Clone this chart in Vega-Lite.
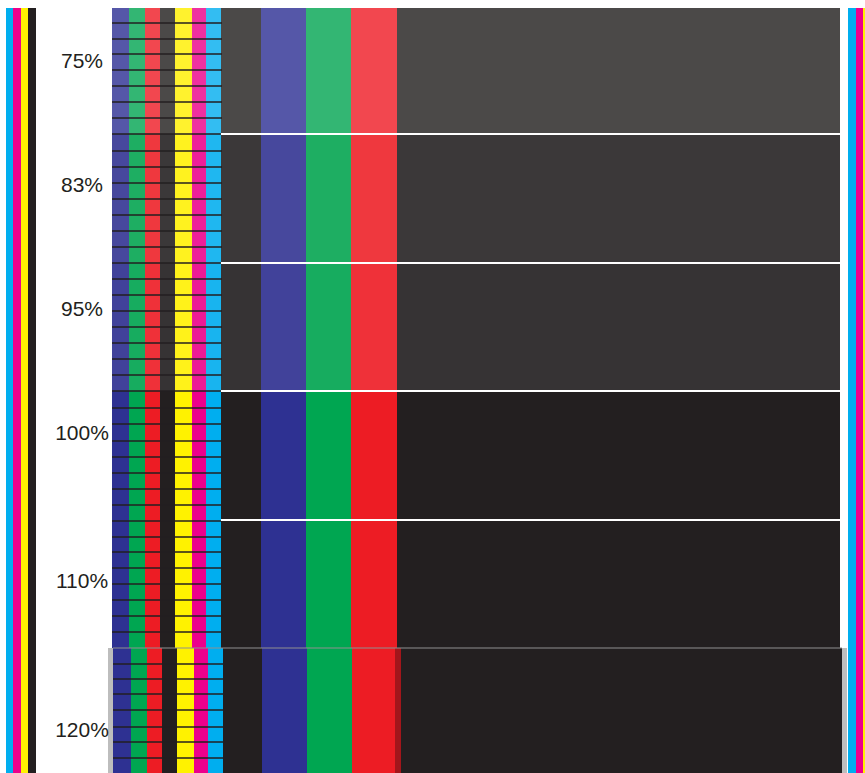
{
  "$schema": "https://vega.github.io/schema/vega-lite/v6.json",
  "width": 865,
  "height": 773,
  "padding": 0,
  "autosize": {"type": "none"},
  "background": "white",
  "config": {"view": {"stroke": null}},
  "datasets": {
    "patches": [
      {"ink": "SH", "x0": 108, "x1": 847, "y0": 648, "y1": 773},
      {"ink": "C100", "x0": 6, "x1": 13, "y0": 8, "y1": 773},
      {"ink": "M100", "x0": 13, "x1": 21, "y0": 8, "y1": 773},
      {"ink": "Y100", "x0": 21, "x1": 28, "y0": 8, "y1": 773},
      {"ink": "K100", "x0": 28, "x1": 36, "y0": 8, "y1": 773},
      {"ink": "C100", "x0": 848, "x1": 856, "y0": 8, "y1": 773},
      {"ink": "M100", "x0": 856, "x1": 863, "y0": 8, "y1": 773},
      {"ink": "Y100", "x0": 863, "x1": 866, "y0": 8, "y1": 773},

      {"ink": "B75", "x0": 112, "x1": 129, "y0": 8, "y1": 134},
      {"ink": "G75", "x0": 129, "x1": 145, "y0": 8, "y1": 134},
      {"ink": "R75", "x0": 145, "x1": 160, "y0": 8, "y1": 134},
      {"ink": "K75", "x0": 160, "x1": 175, "y0": 8, "y1": 134},
      {"ink": "Y75", "x0": 175, "x1": 192, "y0": 8, "y1": 134},
      {"ink": "M75", "x0": 192, "x1": 206, "y0": 8, "y1": 134},
      {"ink": "C75", "x0": 206, "x1": 221, "y0": 8, "y1": 134},
      {"ink": "K75", "x0": 221, "x1": 261, "y0": 8, "y1": 134},
      {"ink": "B75", "x0": 261, "x1": 306, "y0": 8, "y1": 134},
      {"ink": "G75", "x0": 306, "x1": 351, "y0": 8, "y1": 134},
      {"ink": "R75", "x0": 351, "x1": 397, "y0": 8, "y1": 134},
      {"ink": "K75", "x0": 397, "x1": 840, "y0": 8, "y1": 134},

      {"ink": "B83", "x0": 112, "x1": 129, "y0": 134, "y1": 263},
      {"ink": "G83", "x0": 129, "x1": 145, "y0": 134, "y1": 263},
      {"ink": "R83", "x0": 145, "x1": 160, "y0": 134, "y1": 263},
      {"ink": "K83", "x0": 160, "x1": 175, "y0": 134, "y1": 263},
      {"ink": "Y83", "x0": 175, "x1": 192, "y0": 134, "y1": 263},
      {"ink": "M83", "x0": 192, "x1": 206, "y0": 134, "y1": 263},
      {"ink": "C83", "x0": 206, "x1": 221, "y0": 134, "y1": 263},
      {"ink": "K83", "x0": 221, "x1": 261, "y0": 134, "y1": 263},
      {"ink": "B83", "x0": 261, "x1": 306, "y0": 134, "y1": 263},
      {"ink": "G83", "x0": 306, "x1": 351, "y0": 134, "y1": 263},
      {"ink": "R83", "x0": 351, "x1": 397, "y0": 134, "y1": 263},
      {"ink": "K83", "x0": 397, "x1": 840, "y0": 134, "y1": 263},

      {"ink": "B95", "x0": 112, "x1": 129, "y0": 263, "y1": 391},
      {"ink": "G95", "x0": 129, "x1": 145, "y0": 263, "y1": 391},
      {"ink": "R95", "x0": 145, "x1": 160, "y0": 263, "y1": 391},
      {"ink": "K95", "x0": 160, "x1": 175, "y0": 263, "y1": 391},
      {"ink": "Y95", "x0": 175, "x1": 192, "y0": 263, "y1": 391},
      {"ink": "M95", "x0": 192, "x1": 206, "y0": 263, "y1": 391},
      {"ink": "C95", "x0": 206, "x1": 221, "y0": 263, "y1": 391},
      {"ink": "K95", "x0": 221, "x1": 261, "y0": 263, "y1": 391},
      {"ink": "B95", "x0": 261, "x1": 306, "y0": 263, "y1": 391},
      {"ink": "G95", "x0": 306, "x1": 351, "y0": 263, "y1": 391},
      {"ink": "R95", "x0": 351, "x1": 397, "y0": 263, "y1": 391},
      {"ink": "K95", "x0": 397, "x1": 840, "y0": 263, "y1": 391},

      {"ink": "B100", "x0": 112, "x1": 129, "y0": 391, "y1": 648},
      {"ink": "G100", "x0": 129, "x1": 145, "y0": 391, "y1": 648},
      {"ink": "R100", "x0": 145, "x1": 160, "y0": 391, "y1": 648},
      {"ink": "K100", "x0": 160, "x1": 175, "y0": 391, "y1": 648},
      {"ink": "Y100", "x0": 175, "x1": 192, "y0": 391, "y1": 648},
      {"ink": "M100", "x0": 192, "x1": 206, "y0": 391, "y1": 648},
      {"ink": "C100", "x0": 206, "x1": 221, "y0": 391, "y1": 648},
      {"ink": "K100", "x0": 221, "x1": 261, "y0": 391, "y1": 648},
      {"ink": "B100", "x0": 261, "x1": 306, "y0": 391, "y1": 648},
      {"ink": "G100", "x0": 306, "x1": 351, "y0": 391, "y1": 648},
      {"ink": "R100", "x0": 351, "x1": 397, "y0": 391, "y1": 648},
      {"ink": "K100", "x0": 397, "x1": 840, "y0": 391, "y1": 648},

      {"ink": "B100", "x0": 113, "x1": 131, "y0": 648, "y1": 773},
      {"ink": "G100", "x0": 131, "x1": 147, "y0": 648, "y1": 773},
      {"ink": "R100", "x0": 147, "x1": 162, "y0": 648, "y1": 773},
      {"ink": "K100", "x0": 162, "x1": 177, "y0": 648, "y1": 773},
      {"ink": "Y100", "x0": 177, "x1": 194, "y0": 648, "y1": 773},
      {"ink": "M100", "x0": 194, "x1": 208, "y0": 648, "y1": 773},
      {"ink": "C100", "x0": 208, "x1": 223, "y0": 648, "y1": 773},
      {"ink": "K100", "x0": 223, "x1": 262, "y0": 648, "y1": 773},
      {"ink": "B100", "x0": 262, "x1": 307, "y0": 648, "y1": 773},
      {"ink": "G100", "x0": 307, "x1": 352, "y0": 648, "y1": 773},
      {"ink": "R100", "x0": 352, "x1": 398, "y0": 648, "y1": 773},
      {"ink": "K100", "x0": 398, "x1": 842, "y0": 648, "y1": 773},
      {"ink": "SR", "x0": 395, "x1": 401, "y0": 648, "y1": 773}
    ],
    "cellLines": [
      {"y": 23, "x0": 112, "x1": 222}, {"y": 39, "x0": 112, "x1": 222}, {"y": 54, "x0": 112, "x1": 222},
      {"y": 70, "x0": 112, "x1": 222}, {"y": 86, "x0": 112, "x1": 222}, {"y": 102, "x0": 112, "x1": 222},
      {"y": 118, "x0": 112, "x1": 222}, {"y": 134, "x0": 112, "x1": 222}, {"y": 151, "x0": 112, "x1": 222},
      {"y": 167, "x0": 112, "x1": 222}, {"y": 183, "x0": 112, "x1": 222}, {"y": 199, "x0": 112, "x1": 222},
      {"y": 215, "x0": 112, "x1": 222}, {"y": 231, "x0": 112, "x1": 222}, {"y": 247, "x0": 112, "x1": 222},
      {"y": 263, "x0": 112, "x1": 222}, {"y": 279, "x0": 112, "x1": 222}, {"y": 295, "x0": 112, "x1": 222},
      {"y": 311, "x0": 112, "x1": 222}, {"y": 327, "x0": 112, "x1": 222}, {"y": 343, "x0": 112, "x1": 222},
      {"y": 359, "x0": 112, "x1": 222}, {"y": 375, "x0": 112, "x1": 222}, {"y": 391, "x0": 112, "x1": 222},
      {"y": 408, "x0": 112, "x1": 222}, {"y": 424, "x0": 112, "x1": 222}, {"y": 441, "x0": 112, "x1": 222},
      {"y": 457, "x0": 112, "x1": 222}, {"y": 473, "x0": 112, "x1": 222}, {"y": 489, "x0": 112, "x1": 222},
      {"y": 505, "x0": 112, "x1": 222}, {"y": 521, "x0": 112, "x1": 222}, {"y": 537, "x0": 112, "x1": 222},
      {"y": 552, "x0": 112, "x1": 222}, {"y": 568, "x0": 112, "x1": 222}, {"y": 584, "x0": 112, "x1": 222},
      {"y": 600, "x0": 112, "x1": 222}, {"y": 616, "x0": 112, "x1": 222}, {"y": 632, "x0": 112, "x1": 222},
      {"y": 664, "x0": 113, "x1": 223}, {"y": 679, "x0": 113, "x1": 223}, {"y": 694, "x0": 113, "x1": 223},
      {"y": 710, "x0": 113, "x1": 223}, {"y": 727, "x0": 113, "x1": 223}, {"y": 742, "x0": 113, "x1": 223},
      {"y": 758, "x0": 113, "x1": 223}
    ],
    "rowLines": [
      {"y": 134, "x0": 221, "x1": 840},
      {"y": 263, "x0": 221, "x1": 840},
      {"y": 391, "x0": 221, "x1": 840},
      {"y": 520, "x0": 221, "x1": 840}
    ],
    "labels": [
      {"label": "75%", "x": 82, "y": 68},
      {"label": "83%", "x": 82, "y": 192},
      {"label": "95%", "x": 82, "y": 316},
      {"label": "100%", "x": 82, "y": 440},
      {"label": "110%", "x": 82, "y": 588},
      {"label": "120%", "x": 82, "y": 737}
    ]
  },
  "layer": [
    {
      "data": {"name": "patches"},
      "mark": {"type": "rect"},
      "encoding": {
        "x": {"field": "x0", "type": "quantitative", "scale": {"domain": [0, 865], "nice": false, "zero": false}, "axis": null},
        "x2": {"field": "x1"},
        "y": {"field": "y0", "type": "quantitative", "scale": {"domain": [0, 773], "nice": false, "zero": false, "reverse": true}, "axis": null},
        "y2": {"field": "y1"},
        "color": {
          "field": "ink",
          "type": "nominal",
          "legend": null,
          "scale": {
            "domain": ["C100", "M100", "Y100", "K100", "B100", "G100", "R100",
                       "C75", "M75", "Y75", "K75", "B75", "G75", "R75",
                       "C83", "M83", "Y83", "K83", "B83", "G83", "R83",
                       "C95", "M95", "Y95", "K95", "B95", "G95", "R95",
                       "SH", "SR"],
            "range": ["#00aeef", "#ec008c", "#fff200", "#231f20", "#2e3192", "#00a651", "#ed1c24",
                      "#33bdf2", "#ef31a0", "#fff22e", "#4b4948", "#5557a8", "#33b673", "#f2474f",
                      "#1fb7f0", "#ee1f99", "#fff21f", "#3b3839", "#47489d", "#1eae62", "#ef383e",
                      "#18b4ef", "#ec1a96", "#fff21a", "#363334", "#41429a", "#17ac5f", "#ef3139",
                      "#bdbdbd", "#a3161b"]
          }
        }
      }
    },
    {
      "data": {"name": "cellLines"},
      "mark": {"type": "rule", "color": "#231f20", "strokeWidth": 1.5},
      "encoding": {
        "x": {"field": "x0", "type": "quantitative", "scale": {"domain": [0, 865], "nice": false, "zero": false}, "axis": null},
        "x2": {"field": "x1"},
        "y": {"field": "y", "type": "quantitative", "scale": {"domain": [0, 773], "nice": false, "zero": false, "reverse": true}, "axis": null}
      }
    },
    {
      "data": {"name": "rowLines"},
      "mark": {"type": "rule", "color": "#ffffff", "strokeWidth": 1.8},
      "encoding": {
        "x": {"field": "x0", "type": "quantitative", "scale": {"domain": [0, 865], "nice": false, "zero": false}, "axis": null},
        "x2": {"field": "x1"},
        "y": {"field": "y", "type": "quantitative", "scale": {"domain": [0, 773], "nice": false, "zero": false, "reverse": true}, "axis": null}
      }
    },
    {
      "data": {"values": [{"y": 648, "x0": 113, "x1": 842}]},
      "mark": {"type": "rule", "color": "#8f8f8f", "strokeWidth": 1.2},
      "encoding": {
        "x": {"field": "x0", "type": "quantitative", "scale": {"domain": [0, 865], "nice": false, "zero": false}, "axis": null},
        "x2": {"field": "x1"},
        "y": {"field": "y", "type": "quantitative", "scale": {"domain": [0, 773], "nice": false, "zero": false, "reverse": true}, "axis": null}
      }
    },
    {
      "data": {"name": "labels"},
      "mark": {"type": "text", "font": "Liberation Sans", "fontSize": 21, "color": "#231f20", "align": "center", "baseline": "alphabetic"},
      "encoding": {
        "x": {"field": "x", "type": "quantitative", "scale": {"domain": [0, 865], "nice": false, "zero": false}, "axis": null},
        "y": {"field": "y", "type": "quantitative", "scale": {"domain": [0, 773], "nice": false, "zero": false, "reverse": true}, "axis": null},
        "text": {"field": "label"}
      }
    }
  ]
}
